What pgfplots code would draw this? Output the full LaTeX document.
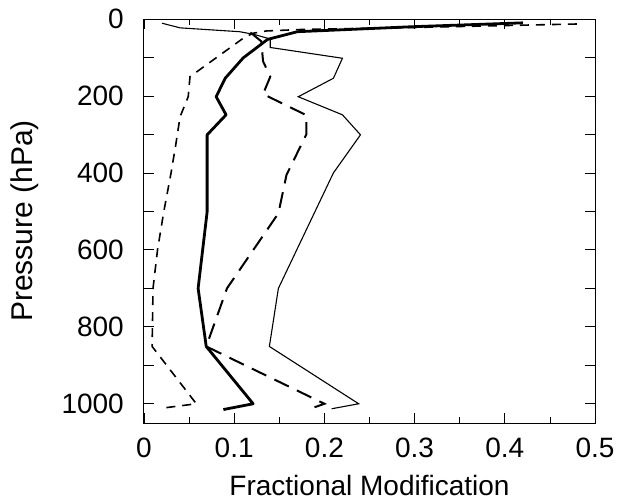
\documentclass[border=0pt]{standalone}
\usepackage{pgfplots}
\pgfplotsset{compat=1.18}
\usepackage{fontspec}
\setmainfont{Liberation Sans}

\begin{document}
\begin{tikzpicture}
\begin{axis}[
    scale only axis,
    width=451pt,
    height=404pt,
    xmin=0, xmax=0.5,
    ymin=0, ymax=1050,
    y dir=reverse,
    tick align=inside,
    xtick={0,0.1,0.2,0.3,0.4,0.5},
    xticklabels={0,0.1,0.2,0.3,0.4,0.5},
    minor xtick={0.05,0.15,0.25,0.35,0.45},
    ytick={0,100,...,1000},
    yticklabels={0,,200,,400,,600,,800,,1000},
    major tick length=10pt,
    minor tick length=6pt,
    tick style={black, line width=0.8pt},
    axis line style={line width=1pt},
    /pgf/number format/assume math mode=true,
    ticklabel style={font=\fontsize{28}{30}\selectfont, inner sep=0pt},
    yticklabel style={anchor=east, xshift=-20pt},
    xticklabel style={anchor=north, yshift=-15pt},
    xlabel={Fractional Modification},
    ylabel={Pressure (hPa)},
    xlabel style={font=\fontsize{28}{30}\selectfont, inner sep=0pt,
        at={(axis description cs:0.5,0)}, anchor=base, yshift=-72pt},
    ylabel style={font=\fontsize{30}{32}\selectfont, inner sep=0pt,
        at={(axis description cs:0,0.5)}, anchor=base, yshift=111pt},
]
\coordinate (BL) at (axis cs:0,1050);
\coordinate (TR) at (axis cs:0.5,0);
% thick solid
\addplot[black, line width=2.8pt, line join=round] coordinates {
    (0.42,10) (0.298,20) (0.17,33) (0.137,53) (0.110,101) (0.090,154)
    (0.080,202) (0.091,249) (0.070,301) (0.070,501) (0.060,700)
    (0.069,851) (0.121,1000) (0.088,1015)
};
% thin solid
\addplot[black, line width=1.1pt] coordinates {
    (0.020,11) (0.040,23) (0.106,33) (0.122,40) (0.140,52) (0.140,74)
    (0.220,102) (0.210,154) (0.171,202) (0.220,249) (0.240,301)
    (0.210,400) (0.149,700) (0.139,851) (0.238,1000) (0.208,1013)
};
% long dashed
\addplot[black, line width=2pt, dash pattern=on 16pt off 9pt] coordinates {
    (0.118,35) (0.130,58) (0.132,110) (0.140,150) (0.132,195)
    (0.180,250) (0.180,300) (0.158,405) (0.149,505) (0.092,700)
    (0.069,851) (0.200,1000) (0.188,1010)
};
% short dashed
\addplot[black, line width=1.6pt, dash pattern=on 9pt off 7pt] coordinates {
    (0.48,13) (0.30,22) (0.177,27) (0.136,31) (0.121,37) (0.110,50)
    (0.051,150) (0.049,202) (0.040,254) (0.035,330) (0.030,400)
    (0.022,500) (0.015,600) (0.010,700) (0.009,851) (0.058,1000)
    (0.018,1012)
};
\end{axis}
\pgfresetboundingbox
\useasboundingbox ([xshift=-144pt,yshift=-78pt]BL) rectangle ([xshift=22pt,yshift=19pt]TR);
\end{tikzpicture}
\end{document}
